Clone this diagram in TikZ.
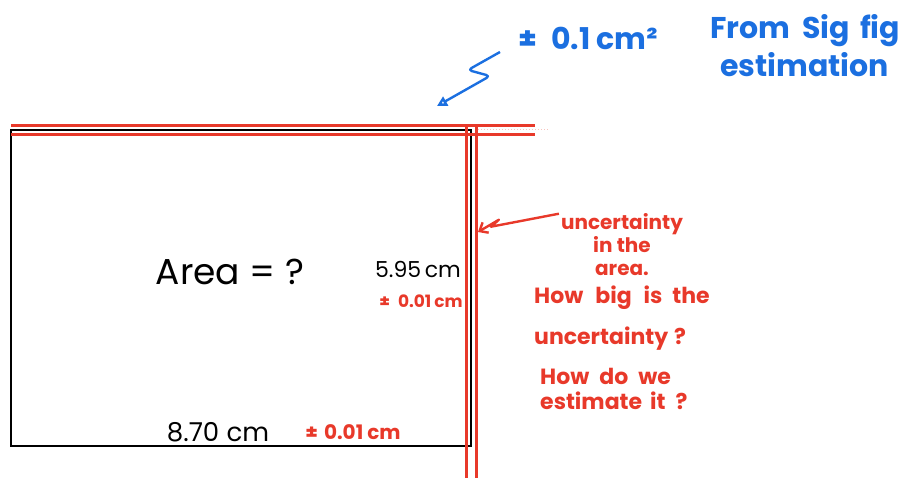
\documentclass[tikz,border=0pt]{standalone}
\usepackage{fontspec}
\setmainfont{Poppins}
\usetikzlibrary{arrows.meta, positioning, calc}
\definecolor{inkred}{HTML}{E8392A}
\definecolor{inkblue}{HTML}{1B6FE0}
\definecolor{fadered}{HTML}{F7C4BE}

\begin{document}
\begin{tikzpicture}[
    x=1pt, y=-1pt,
    blacktext/.style={text=black, inner sep=0pt, font=\fontsize{26}{30}\selectfont},
    redtext/.style={text=inkred, inner sep=0pt, font=\bfseries\fontsize{20}{23}\selectfont},
    bluetext/.style={text=inkblue, inner sep=0pt, font=\bfseries\fontsize{30}{36}\selectfont},
    redline/.style={draw=inkred, line width=3pt},
    bluearrow/.style={draw=inkblue, line width=2.4pt, line join=round, rounded corners=4pt, -{Triangle[open, length=10pt, width=10pt]}},
    redarrow/.style={draw=inkred, line width=2.4pt, line join=round, -{Straight Barb[length=7pt, width=12pt]}}
]
    \useasboundingbox (0,0) rectangle (915,487);

    % Rectangle and uncertainty band
    \draw[line width=2.8pt] (11,130) rectangle (471,446);
    \draw[redline] (11,125) -- (535,125);
    \draw[redline] (11,134) -- (535,134);
    \draw[redline] (466,125) -- (466,478);
    \draw[redline] (476,125) -- (476,478);
    \draw[fadered, line width=1pt, dotted] (478,129) -- (548,129);

    \coordinate (topedge) at (437,106);
    \coordinate (rightedge) at (478,232);

    % Nodes
    \node (area) [blacktext, font=\fontsize{36}{40}\selectfont] at (230,272) {Area = ?};
    \node (height) [blacktext, font=\fontsize{22}{26}\selectfont] at (418,269) {5.95\,cm};
    \node (heighterr) [redtext, font=\bfseries\fontsize{17}{20}\selectfont] at (421,301) {±\hspace{8pt}0.01\hspace{3pt}cm};
    \node (width) [blacktext] at (218,432) {8.70\;cm};
    \node (widtherr) [redtext] at (353,432) {±\hspace{6pt}0.01\hspace{4pt}cm};

    \node (areaerr) [bluetext, anchor=west] at (518,38) {±\hspace{14pt}0.1\hspace{6pt}cm²};
    \node (sigfig) [bluetext, align=left, anchor=north west] at (710,14) {From\hspace{12pt}Sig\hspace{10pt}fig\\[2pt]\hspace{10pt}estimation};

    \node (band) [redtext, align=center] at (622,245) {uncertainty\\in the\\area.};
    \node (howbig) [redtext, font=\bfseries\fontsize{22}{25}\selectfont, align=left, anchor=north west] at (534,286) {How\hspace{12pt}big\hspace{12pt}is\hspace{10pt}the\\[16pt]uncertainty\hspace{6pt}?};
    \node (howdo) [redtext, font=\bfseries\fontsize{22}{25}\selectfont, align=left, anchor=north west] at (540,368) {How\hspace{10pt}do\hspace{10pt}we\\estimate\hspace{8pt}it\hspace{10pt}?};

    % Pointers
    \draw [bluearrow] (areaerr.west) ++(-18,14) -- ++(-32,18) -- ++(22,6) -- (topedge);
    \draw [redarrow] (band.north west) ++(-2,0) -- ++(-68,13) -- ++(8,-7) -- (rightedge);

\end{tikzpicture}
\end{document}
